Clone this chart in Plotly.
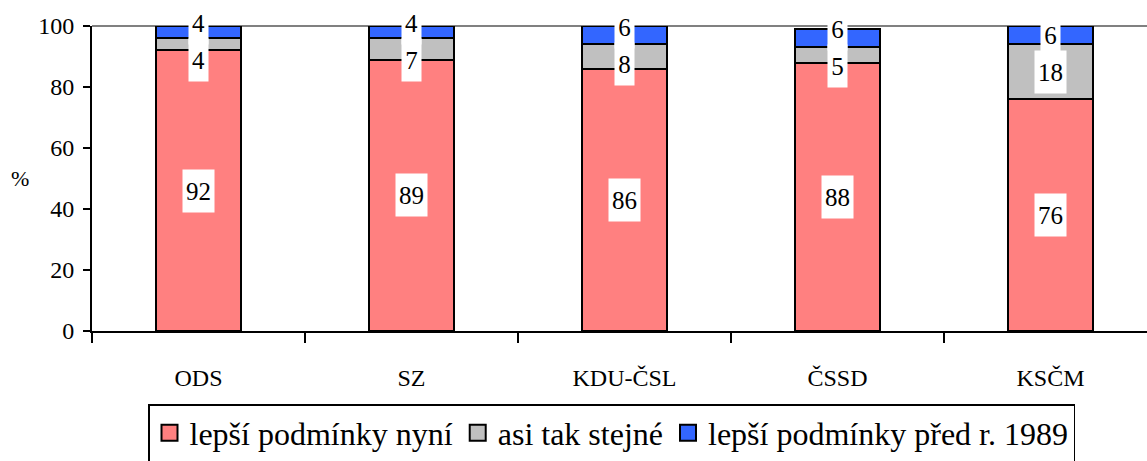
import plotly.graph_objects as go

parties = ["ODS", "SZ", "KDU-ČSL", "ČSSD", "KSČM"]
better_now = [92, 89, 86, 88, 76]
about_same = [4, 7, 8, 5, 18]
better_before = [4, 4, 6, 6, 6]
series_names = ["lepší podmínky nyní", "asi tak stejné", "lepší podmínky před r. 1989"]
series_values = [better_now, about_same, better_before]
colors = ["#FF8080", "#C0C0C0", "#3366FF"]
y_ticks = [0, 20, 40, 60, 80, 100]

FONT = "Liberation Serif"
W, H = 1147, 461
ML, MR, MT, MB = 92, 0, 26, 130
plot_h = H - MT - MB
px_per_unit = plot_h / 100.0
cat_px = 213.0
x_range = [-0.5, -0.5 + (W - ML - MR) / cat_px]

fig = go.Figure()
for name, vals, col in zip(series_names, series_values, colors):
    fig.add_trace(go.Bar(
        x=parties, y=vals, name=name, width=0.4,
        marker=dict(color=col, line=dict(color="black", width=2)),
        showlegend=False,
    ))
    # legend entry with bigger square marker
    fig.add_trace(go.Scatter(
        x=[None], y=[None], mode="markers", name=name,
        marker=dict(symbol="square", size=16, color=col,
                    line=dict(color="black", width=2)),
    ))

# data labels (white boxes) centred on segments, with simple collision avoidance
MIN_GAP = 37.0
annotations = []
for i, p in enumerate(parties):
    bases = [0, better_now[i], better_now[i] + about_same[i]]
    centers = [b + v[i] / 2.0 for b, v in zip(bases, series_values)]
    shifts = [0.0, 0.0, 0.0]
    d = (centers[2] - centers[1]) * px_per_unit
    extra = max(0.0, MIN_GAP - d)
    up = min(extra / 2.0, 9.0)
    shifts[2] = up
    shifts[1] = -(extra - up)
    for k in range(3):
        txt = str(series_values[k][i])
        annotations.append(dict(
            x=p, y=centers[k], xref="x", yref="y", text=txt,
            showarrow=False, yshift=shifts[k],
            font=dict(family=FONT, size=25, color="black"),
            bgcolor="white", borderpad=0,
            width=7 + 12 * len(txt), height=42,
        ))

annotations.append(dict(
    x=-(ML - 20) / (W - ML - MR), y=0.5, xref="paper", yref="y domain",
    text="%", showarrow=False, xanchor="center", yanchor="middle",
    font=dict(family=FONT, size=22, color="black"),
))

fig.update_layout(
    width=W, height=H,
    margin=dict(l=ML, r=MR, t=MT, b=MB, pad=0, autoexpand=False),
    barmode="stack",
    plot_bgcolor="white", paper_bgcolor="white",
    font=dict(family=FONT, size=22, color="black"),
    annotations=annotations,
    shapes=[dict(type="line", xref="x domain", yref="y domain",
                 x0=0, x1=1, y0=1, y1=1, layer="below",
                 line=dict(color="#808080", width=2))],
    legend=dict(
        orientation="h", xref="container", yref="container",
        x=148 / W, xanchor="left", y=1 - 404 / H, yanchor="top",
        bordercolor="black", borderwidth=1.5, bgcolor="white",
        font=dict(family=FONT, size=32, color="black"),
        itemsizing="trace", itemwidth=30, tracegroupgap=0, traceorder="normal",
    ),
    xaxis=dict(
        type="category", range=x_range, automargin=False,
        showline=True, linecolor="black", linewidth=2,
        ticks="outside", tickson="boundaries", ticklen=10, tickwidth=2, tickcolor="black",
        showgrid=False, zeroline=False,
        tickfont=dict(family=FONT, size=24, color="black"),
        ticklabelstandoff=24,
    ),
    yaxis=dict(
        range=[0, 100], tickvals=y_ticks, automargin=False,
        showline=True, linecolor="black", linewidth=2,
        ticks="outside", ticklen=7, tickwidth=2, tickcolor="black",
        showgrid=False, zeroline=False,
        tickfont=dict(family=FONT, size=24, color="black"),
        ticklabelstandoff=4,
    ),
)

fig.write_html("out.html", config={"displayModeBar": False},
               post_script="document.body.style.margin='0';")
